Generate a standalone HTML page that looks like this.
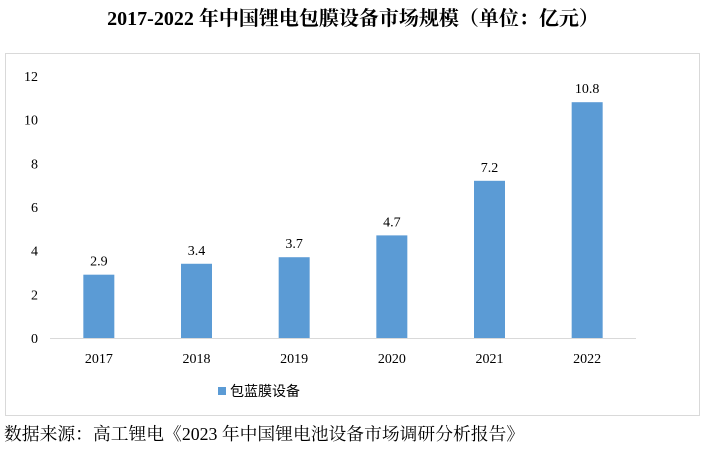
<!DOCTYPE html>
<html><head><meta charset="utf-8"><style>
body{margin:0;width:706px;height:446px;background:#fff;overflow:hidden;font-family:"Liberation Serif","Noto Serif CJK SC",serif;}
</style></head><body>
<svg width="706" height="446" xmlns="http://www.w3.org/2000/svg">
<text x="353" y="25" text-anchor="middle" font-size="20" font-weight="bold" font-family="Liberation Serif, Noto Serif CJK SC, serif">2017-2022 年中国锂电包膜设备市场规模（单位：亿元）</text>
<rect x="5.5" y="53.5" width="694" height="362" fill="none" stroke="#d9d9d9"/>
<g id="plot"></g>
<rect x="218" y="387" width="8" height="8" fill="#5b9bd5"/>
<text x="230" y="396" font-size="14" font-family="Liberation Sans, Noto Sans CJK SC, sans-serif">包蓝膜设备</text>
<text x="4" y="440" font-size="17.8" font-family="Liberation Serif, Noto Serif CJK SC, serif">数据来源：高工锂电《2023 年中国锂电池设备市场调研分析报告》</text>
</svg>
<script>
const categories=["2017","2018","2019","2020","2021","2022"];
const values=[2.9,3.4,3.7,4.7,7.2,10.8];
const ticks=[0,2,4,6,8,10,12];
const NS="http://www.w3.org/2000/svg";
const g=document.getElementById("plot");
const x0=50,x1=636,y0=338,y12=76;
const y=v=>y0-(y0-y12)*v/12;
const band=(x1-x0)/categories.length;
const xc=i=>x0+band*(i+0.5);
function mk(t,a,txt){const e=document.createElementNS(NS,t);for(const k in a)e.setAttribute(k,a[k]);if(txt!==undefined)e.textContent=txt;g.appendChild(e);return e;}
ticks.forEach(t=>{
const e=mk("text",{x:38,y:y(t)+5,"text-anchor":"end","font-size":"14"},String(t));


});
const ax=mk("line",{x1:x0,x2:x1,y1:y0+0.5,y2:y0+0.5,stroke:"#d9d9d9"});


values.forEach((v,i)=>{
const b=mk("rect",{x:xc(i)-15.5,y:y(v),width:31,height:y0-y(v),fill:"#5b9bd5"});


const l=mk("text",{x:xc(i),y:y(v)-9,"text-anchor":"middle","font-size":"14"},v.toFixed(1));


const c=mk("text",{x:xc(i),y:363,"text-anchor":"middle","font-size":"14"},categories[i]);


});
</script>
</body></html>
